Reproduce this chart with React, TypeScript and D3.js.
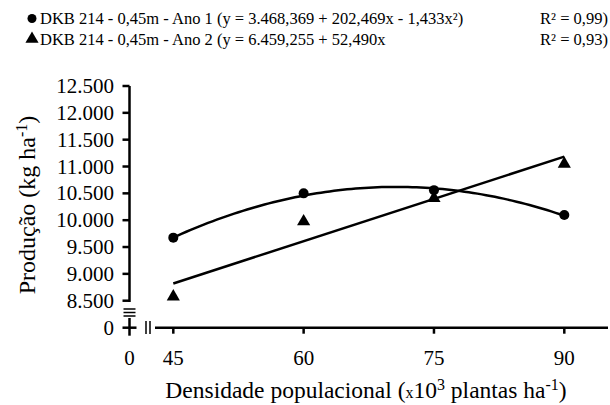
import React from "react";
import * as d3 from "d3";

const densities = [45, 60, 75, 90];
const ano1 = [9675, 10500, 10560, 10095];
const ano2 = [8575, 9975, 10410, 11050];
const fit1 = [3468.369, 202.469, -1.433];
const fit2 = [6459.255, 52.49];
const yTicks = [8500, 9000, 9500, 10000, 10500, 11000, 11500, 12000, 12500];

const W = 610;
const H = 405;
const SERIF = { fontFamily: "'Liberation Serif'" };

export default function App() {
  const x = d3.scaleLinear().domain([45, 90]).range([173.3, 564.3]);
  const y = d3.scaleLinear().domain([8500, 12500]).range([300.7, 86]);
  const axisX = 129.5;
  const baseY = 327.7;
  const fmt = (v: number) => d3.format(",")(v).replace(/,/g, ".");

  const xs = d3.range(45, 90.001, 0.5);
  const line = d3
    .line<[number, number]>()
    .x((d) => x(d[0]))
    .y((d) => y(d[1]));
  const curve1 = line(xs.map((v) => [v, fit1[0] + fit1[1] * v + fit1[2] * v * v]));
  const curve2 = line([45, 90].map((v) => [v, fit2[0] + fit2[1] * v]));
  const tri = d3.symbol().type(d3.symbolTriangle).size(75);

  return (
    <svg width={W} height={H} style={{ position: "absolute", left: 0, top: 0, background: "#fff" }}>
      {/* legend */}
      <g fontSize={16.5}>
        <circle cx={32} cy={18.5} r={4.5} fill="#000" />
        <text x={40} y={24} style={SERIF}>
          DKB 214 - 0,45m - Ano 1 (y = 3.468,369 + 202,469x - 1,433x²)
        </text>
        <text x={608} y={24} textAnchor="end" style={SERIF}>R² = 0,99)</text>
        <path d={tri() as string} transform="translate(32,39)" fill="#000" />
        <text x={40} y={44.5} style={SERIF}>
          DKB 214 - 0,45m - Ano 2 (y = 6.459,255 + 52,490x
        </text>
        <text x={608} y={44.5} textAnchor="end" style={SERIF}>R² = 0,93)</text>
      </g>

      {/* axes */}
      <g stroke="#000" strokeWidth={2.5} fill="none">
        <line x1={axisX} x2={axisX} y1={y(12500)} y2={302} />
        {yTicks.map((t) => (
          <line key={t} x1={axisX - 7} x2={axisX} y1={y(t)} y2={y(t)} />
        ))}
        <line x1={axisX - 6} x2={axisX + 6} y1={309} y2={309} strokeWidth={1.5} />
        <line x1={axisX - 6} x2={axisX + 6} y1={312.5} y2={312.5} strokeWidth={1.5} />
        <line x1={axisX - 6} x2={axisX + 6} y1={316} y2={316} strokeWidth={1.5} />
        <line x1={axisX} x2={axisX} y1={318} y2={baseY + 8} />
        <line x1={axisX - 7} x2={axisX + 7} y1={baseY} y2={baseY} />
        <line x1={146} x2={146} y1={321} y2={334} strokeWidth={1.5} />
        <line x1={150} x2={150} y1={321} y2={334} strokeWidth={1.5} />
        <line x1={155} x2={608} y1={baseY} y2={baseY} />
        {densities.map((d) => (
          <line key={d} x1={x(d)} x2={x(d)} y1={baseY} y2={baseY + 6} />
        ))}
      </g>

      {/* tick labels */}
      <g fontSize={21} fill="#000">
        {yTicks.map((t) => (
          <text key={t} x={114} y={y(t) + 7} textAnchor="end" style={SERIF}>
            {fmt(t)}
          </text>
        ))}
        <text x={114} y={baseY + 7} textAnchor="end" style={SERIF}>0</text>
        <text x={axisX} y={365} textAnchor="middle" style={SERIF}>0</text>
        {densities.map((d) => (
          <text key={d} x={x(d)} y={365} textAnchor="middle" style={SERIF}>
            {d}
          </text>
        ))}
      </g>

      {/* axis titles */}
      <text x={366} y={398} fontSize={23.5} textAnchor="middle" style={SERIF}>
        Densidade populacional (<tspan fontSize={16}>x</tspan>10<tspan fontSize={16} dy={-8}>3</tspan>
        <tspan dy={8}> plantas ha</tspan>
        <tspan fontSize={16} dy={-8}>-1</tspan>
        <tspan dy={8}>)</tspan>
      </text>
      <text transform="translate(35,205) rotate(-90)" fontSize={24} textAnchor="middle" style={SERIF}>
        Produção (kg ha<tspan fontSize={16} dy={-8}>-1</tspan>
        <tspan dy={8}>)</tspan>
      </text>

      {/* fitted curves */}
      <path d={curve1 as string} fill="none" stroke="#000" strokeWidth={2.5} />
      <path d={curve2 as string} fill="none" stroke="#000" strokeWidth={2.5} />

      {/* points */}
      {densities.map((d, i) => (
        <circle key={"c" + d} cx={x(d)} cy={y(ano1[i])} r={5} fill="#000" />
      ))}
      {densities.map((d, i) => (
        <path key={"t" + d} d={tri() as string} transform={`translate(${x(d)},${y(ano2[i])})`} fill="#000" />
      ))}
    </svg>
  );
}
